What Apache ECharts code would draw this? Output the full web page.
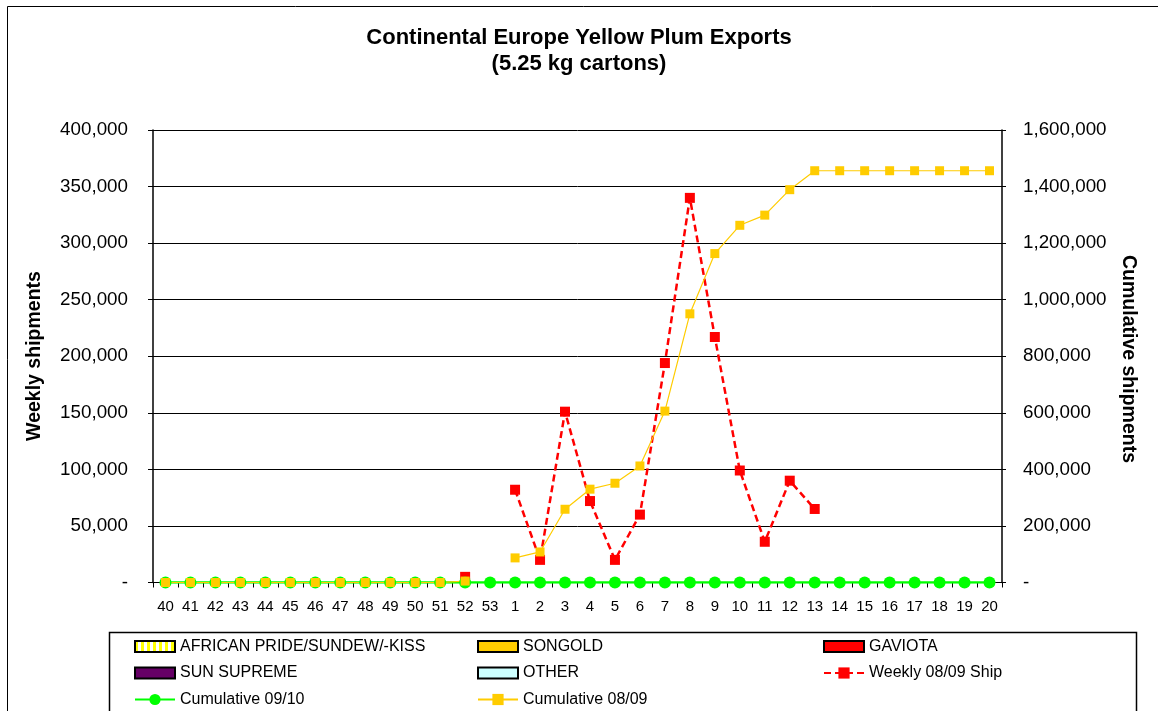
<!DOCTYPE html>
<html>
<head>
<meta charset="utf-8">
<script src="https://cdn.jsdelivr.net/npm/echarts@6/dist/echarts.min.js"></script>
<style>
  html, body { margin: 0; padding: 0; background: #fff; }
  #chart { width: 1158px; height: 711px; }
</style>
</head>
<body>
<div id="chart"></div>
<script>
// tick labels (season weeks)
const weeks = ['40', '41', '42', '43', '44', '45', '46', '47', '48', '49', '50', '51', '52', '53',
    '1', '2', '3', '4', '5', '6', '7', '8', '9', '10', '11', '12', '13', '14', '15', '16', '17', '18', '19', '20'];

// weekly shipments 08/09 (left axis)
const weekly0809 = [null, null, null, null, null, null, null, null, null, null, null, null, 5000, null,
    82000, 20000, 151000, 72000, 20000, 60000, 194000, 340000, 217000, 99000, 36000, 90000, 65000,
    null, null, null, null, null, null, null];

// cumulative 09/10 (left axis)
const cumulative0910 = [0, 0, 0, 0, 0, 0, 0, 0, 0, 0, 0, 0, 0, 0,
    0, 0, 0, 0, 0, 0, 0, 0, 0, 0, 0, 0, 0, 0, 0, 0, 0, 0, 0, 0];

// cumulative 08/09 (right axis)
const cumulative0809 = [0, 0, 0, 0, 0, 0, 0, 0, 0, 0, 0, 0, 5000, null,
    87000, 108000, 259000, 330000, 351000, 412000, 606000, 950000, 1163000, 1263000, 1299000, 1389000, 1456000,
    1456000, 1456000, 1456000, 1456000, 1456000, 1456000, 1456000];

// varieties (no bars drawn this season)
const africanPride = [];
const songold = [];
const gaviota = [];
const sunSupreme = [];
const other = [];

let chartDom = document.getElementById('chart');
let myChart = echarts.init(chartDom, null, {renderer: 'canvas'});

// yellow / white vertical stripes
let stripe = document.createElement('canvas');
stripe.width = 6;
stripe.height = 12;
let ctx = stripe.getContext('2d');
ctx.fillStyle = '#ffffff';
ctx.fillRect(0, 0, 6, 12);
ctx.fillStyle = '#ffff00';
ctx.fillRect(0, 0, 3, 12);

const font = 'Liberation Sans, Arial, sans-serif';

function fmt(v) {
    if (v === 0) return '-';
    return v.toLocaleString('en-US');
}

function barSeries(name, color, data) {
    return {
        name: name,
        type: 'bar',
        data: data,
        itemStyle: {color: color, borderColor: '#000', borderWidth: 1}
    };
}

// legend rows centred at 646.5, 673, 699.5
function legendBlock(left, top, names, isLine) {
    let l = {
        orient: 'vertical',
        left: left,
        top: top,
        padding: 0,
        itemGap: 10.5,
        itemWidth: 40,
        itemHeight: isLine ? 14 : 11,
        data: names,
        selectedMode: false,
        textStyle: {fontFamily: font, fontSize: 16, color: '#000', lineHeight: 16}
    };
    if (!isLine) l.icon = 'rect';
    return l;
}

let option = {
    animation: false,
    backgroundColor: '#fff',
    textStyle: {fontFamily: font},
    title: {
        text: 'Continental Europe Yellow Plum Exports\n(5.25 kg cartons)',
        left: 'center',
        top: 25,
        padding: 0,
        textStyle: {fontFamily: font, fontSize: 22, fontWeight: 'bold', color: '#000', lineHeight: 26}
    },
    grid: {
        left: 153,
        right: 156,
        top: 130,
        bottom: 128.5,
        containLabel: false,
        outerBoundsMode: 'none'
    },
    legend: [
        legendBlock(134, 638.5, ['AFRICAN PRIDE/SUNDEW/-KISS', 'SUN SUPREME'], false),
        legendBlock(477, 638.5, ['SONGOLD', 'OTHER'], false),
        legendBlock(823, 638.5, ['GAVIOTA'], false),
        legendBlock(823, 665, ['Weekly 08/09 Ship'], true),
        legendBlock(134, 691.5, ['Cumulative 09/10'], true),
        legendBlock(477, 691.5, ['Cumulative 08/09'], true)
    ],
    xAxis: {
        type: 'category',
        data: weeks,
        boundaryGap: true,
        axisLine: {show: true, lineStyle: {color: '#000', width: 1}},
        axisTick: {show: true, interval: 0, length: 5, inside: false, lineStyle: {color: '#000'}},
        axisLabel: {interval: 0, margin: 17, fontFamily: font, fontSize: 15, color: '#000'},
        splitLine: {show: false}
    },
    yAxis: [{
        type: 'value',
        min: 0,
        max: 400000,
        interval: 50000,
        axisLine: {show: true, lineStyle: {color: '#000', width: 1.5}},
        axisTick: {show: true, length: 5, lineStyle: {color: '#000'}},
        axisLabel: {margin: 25, fontFamily: font, fontSize: 18.8, color: '#000', formatter: fmt},
        splitLine: {show: true, lineStyle: {color: '#000', width: 1}}
    }, {
        type: 'value',
        position: 'right',
        min: 0,
        max: 1600000,
        interval: 200000,
        axisLine: {show: true, lineStyle: {color: '#000', width: 1.5}},
        axisTick: {show: true, length: 4, lineStyle: {color: '#000'}},
        axisLabel: {margin: 21, fontFamily: font, fontSize: 18.8, color: '#000', formatter: fmt},
        splitLine: {show: false}
    }],
    graphic: [{
        type: 'rect',
        shape: {x: 7.5, y: 6.5, width: 1200, height: 800},
        style: {fill: null, stroke: '#000', lineWidth: 1},
        silent: true
    }, {
        type: 'rect',
        shape: {x: 109.5, y: 632.5, width: 1027, height: 120},
        style: {fill: null, stroke: '#000', lineWidth: 1.5},
        silent: true
    }, {
        type: 'text',
        x: 35,
        y: 356,
        rotation: Math.PI / 2,
        style: {
            text: 'Weekly shipments', fontFamily: font, fontSize: 19.5, fontWeight: 'bold',
            fill: '#000', align: 'center', verticalAlign: 'middle'
        }
    }, {
        type: 'text',
        x: 1128,
        y: 359,
        rotation: -Math.PI / 2,
        style: {
            text: 'Cumulative shipments', fontFamily: font, fontSize: 19.5, fontWeight: 'bold',
            fill: '#000', align: 'center', verticalAlign: 'middle'
        }
    }],
    series: [
        barSeries('AFRICAN PRIDE/SUNDEW/-KISS', {image: stripe, repeat: 'repeat'}, africanPride),
        barSeries('SONGOLD', '#FFCC00', songold),
        barSeries('GAVIOTA', '#FF0000', gaviota),
        barSeries('SUN SUPREME', '#660066', sunSupreme),
        barSeries('OTHER', '#CCFFFF', other),
        {
            name: 'Weekly 08/09 Ship',
            type: 'line',
            yAxisIndex: 0,
            data: weekly0809,
            symbol: 'rect',
            symbolSize: 10,
            itemStyle: {color: '#FF0000'},
            lineStyle: {color: '#FF0000', width: 2.5, type: [7, 4]}
        },
        {
            name: 'Cumulative 09/10',
            type: 'line',
            yAxisIndex: 0,
            data: cumulative0910,
            symbol: 'circle',
            symbolSize: 12,
            itemStyle: {color: '#00FF00'},
            lineStyle: {color: '#00FF00', width: 2.5}
        },
        {
            name: 'Cumulative 08/09',
            type: 'line',
            yAxisIndex: 1,
            data: cumulative0809,
            symbol: 'rect',
            symbolSize: 9,
            itemStyle: {color: '#FFCC00'},
            lineStyle: {color: '#FFCC00', width: 1.2}
        }
    ]
};

option && myChart.setOption(option);
</script>
</body>
</html>
